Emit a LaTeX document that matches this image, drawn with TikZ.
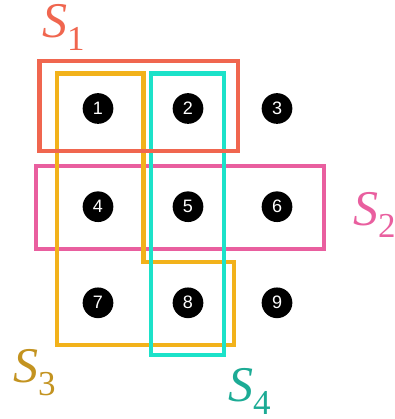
\documentclass[tikz,border=0pt]{standalone}
\usepackage[no-math]{fontspec}
\newfontfamily\digitfont{Liberation Sans}
\newfontfamily\labelfont{Liberation Serif}
\definecolor{cRed}{HTML}{F0664F}
\definecolor{cPink}{HTML}{E95F9F}
\definecolor{cOrange}{HTML}{F2B21B}
\definecolor{cCyan}{HTML}{1CE2C9}
\definecolor{tGold}{HTML}{C39320}
\definecolor{tTeal}{HTML}{1CAB95}
\newcommand{\Slab}[1]{{\labelfont\fontsize{50}{50}\selectfont\itshape S}\kern0pt\raisebox{-13pt}{\labelfont\fontsize{35}{35}\selectfont #1}}
\tikzset{
  elem/.style={circle, fill=black, text=white, minimum size=30.7pt, inner sep=0pt, font=\digitfont\fontsize{18}{18}\selectfont},
  setbox/.style={line width=4.3pt, line join=miter},
  slabel/.style={anchor=base west, inner sep=0pt}
}
\begin{document}
\begin{tikzpicture}[x=1pt, y=-1pt]
\useasboundingbox (0,0) rectangle (394,419);
% sets
\draw[setbox, cPink] (36.3,166.3) rectangle (324,249.3);
\draw[setbox, cOrange] (57,73.5) -- (143.5,73.5) -- (143.5,262) -- (234.3,262) -- (234.3,345) -- (57,345) -- cycle;
\draw[setbox, cCyan] (151.3,73.5) rectangle (224,355.3);
\draw[setbox, cRed] (39.5,61.3) rectangle (238,151.3);
% elements
\node[elem] (n1) at (98,108.5) {1};
\node[elem] (n2) at (188,108.5) {2};
\node[elem] (n3) at (277,108.5) {3};
\node[elem] (n4) at (98,206.7) {4};
\node[elem] (n5) at (188,206.7) {5};
\node[elem] (n6) at (277,206.7) {6};
\node[elem] (n7) at (98,302.8) {7};
\node[elem] (n8) at (188,302.8) {8};
\node[elem] (n9) at (277,302.8) {9};
% labels
\node[slabel, text=cRed] (s1) at (42,38) {\Slab{1}};
\node[slabel, text=cPink] (s2) at (353,225) {\Slab{2}};
\node[slabel, text=tGold] (s3) at (13,382) {\Slab{3}};
\node[slabel, text=tTeal] (s4) at (228,401) {\Slab{4}};
\end{tikzpicture}
\end{document}
